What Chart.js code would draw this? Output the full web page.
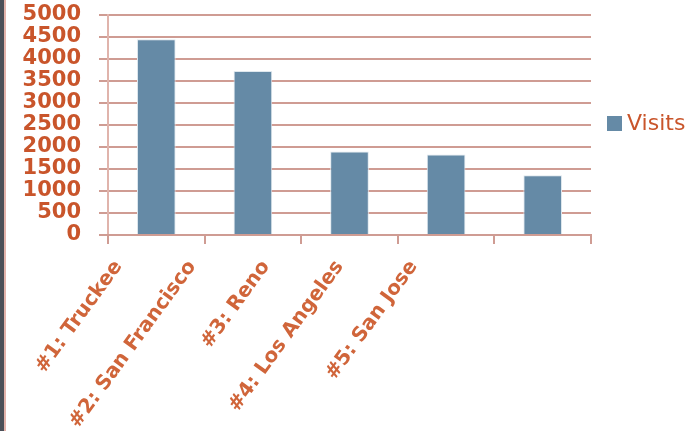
<!DOCTYPE html>
<html>
<head>
<meta charset="utf-8">
<script src="https://cdn.jsdelivr.net/npm/chart.js@4.4.1/dist/chart.umd.min.js"></script>
<style>
  html, body { margin: 0; padding: 0; background: #fff; }
  body { width: 689px; height: 431px; overflow: hidden; position: relative; }
  .edge { position: absolute; left: 0; top: 0; width: 4px; height: 431px; background: #4b5058; border-right: 2px solid #e2b3ab; z-index: 2; }
  #wrap { position: absolute; left: 0; top: 0; width: 689px; height: 431px; }
</style>
</head>
<body>
<div class="edge"></div>
<div id="wrap"><canvas id="visitsChart" width="689" height="431"></canvas></div>
<script>
const cities = ['#1: Truckee', '#2: San Francisco', '#3: Reno', '#4: Los Angeles', '#5: San Jose'];
const visits = [4450, 3730, 1900, 1830, 1360];
const seriesName = 'Visits';

const gridColor = '#cf9c93';
const textColor = '#c9552b';
const barColor = '#658aa6';

// legend drawn next to the plot, centred on the plot area
const sideLegend = {
  id: 'sideLegend',
  afterDraw(chart) {
    const ctx = chart.ctx;
    const area = chart.chartArea;
    const y = (area.top + area.bottom) / 2 - 2;
    ctx.save();
    ctx.fillStyle = barColor;
    ctx.fillRect(607, y - 7, 15, 15);
    ctx.fillStyle = textColor;
    ctx.font = "22px 'DejaVu Sans'";
    ctx.textBaseline = 'middle';
    ctx.fillText(seriesName, 627, y + 1);
    ctx.restore();
  }
};

// the slanted category labels sit closer together than the ticks,
// so pull each one toward the left edge of the axis
const squeezeLabels = {
  id: 'squeezeLabels',
  beforeDraw(chart) {
    const xs = chart.scales.x;
    xs.getLabelItems().forEach(item => {
      const c = item.options.translation[0];
      item.options.translation[0] = xs.left + (c - xs.left) * 0.764 - 29;
    });
  }
};

new Chart(document.getElementById('visitsChart').getContext('2d'), {
  type: 'bar',
  data: {
    labels: cities,
    datasets: [{
      label: seriesName,
      data: visits,
      backgroundColor: barColor,
      borderColor: '#dfe8ee',
      borderWidth: 1,
      barPercentage: 0.4,
      categoryPercentage: 1
    }]
  },
  options: {
    responsive: false,
    animation: false,
    layout: { padding: { top: 15, right: 98, left: 0, bottom: 0 } },
    plugins: {
      legend: { display: false },
      tooltip: { enabled: false }
    },
    scales: {
      y: {
        min: 0,
        max: 5000,
        afterFit: scale => {
          scale.width = 108;
          scale.paddingTop = 0;
          scale.paddingBottom = 0;
        },
        ticks: {
          stepSize: 500,
          autoSkip: false,
          color: textColor,
          padding: 18,
          callback: value => String(value),
          font: { family: "'DejaVu Sans'", weight: 'bold', size: 21, lineHeight: 1 }
        },
        grid: { color: gridColor, lineWidth: 2, tickLength: 9 },
        border: { color: '#e0b4ac', width: 2 }
      },
      x: {
        afterFit: scale => {
          scale.height = 196;
          scale.paddingLeft = 0;
          scale.paddingRight = 0;
        },
        ticks: {
          color: '#d0653a',
          autoSkip: false,
          maxRotation: 54,
          minRotation: 54,
          padding: 12,
          font: { family: "'DejaVu Sans'", weight: 'bold', size: 20 }
        },
        grid: { drawOnChartArea: false, color: gridColor, lineWidth: 2, tickLength: 9, offset: true },
        border: { color: gridColor, width: 2 }
      }
    }
  },
  plugins: [sideLegend, squeezeLabels]
});
</script>
</body>
</html>
